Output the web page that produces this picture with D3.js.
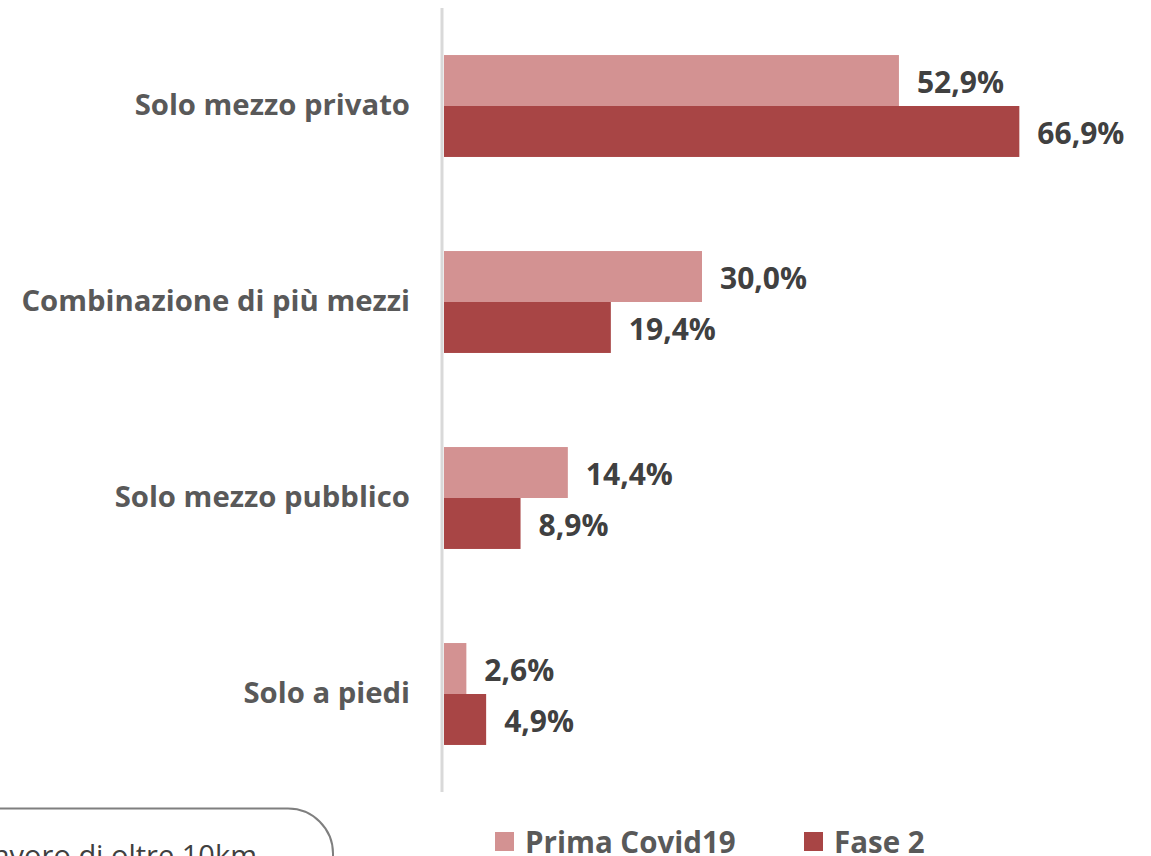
<!DOCTYPE html>
<html><head><meta charset="utf-8">
<script src="https://cdn.jsdelivr.net/npm/d3@7/dist/d3.min.js"></script>
<style>body{margin:0;background:#fff}svg{display:block}</style>
</head><body>
<svg id="c" width="1151" height="856"></svg>
<script>
const categories = ["Solo mezzo privato","Combinazione di più mezzi","Solo mezzo pubblico","Solo a piedi"];
const seriesNames = ["Prima Covid19","Fase 2"];
const primaCovid = [52.9, 30.0, 14.4, 2.6];
const fase2 = [66.9, 19.4, 8.9, 4.9];
const colors = ["#d39292","#a84545"];

const svg = d3.select("#c");
const x = d3.scaleLinear().domain([0, 100]).range([444, 1304]);
const y = d3.scaleBand().domain(categories).range([8, 792]).paddingInner(0.48).paddingOuter(0.24);
const ys = d3.scaleBand().domain(seriesNames).range([0, y.bandwidth()]);

const fmt = v => d3.format(".1f")(v).replace(".", ",") + "%";
const font = "'Open Sans', sans-serif";

const data = [primaCovid, fase2];
seriesNames.forEach((s, si) => {
  const g = svg.append("g");
  g.selectAll("rect").data(categories).join("rect")
    .attr("x", x(0)).attr("y", c => y(c) + ys(s))
    .attr("width", (c, i) => x(data[si][i]) - x(0))
    .attr("height", ys.bandwidth())
    .attr("fill", colors[si]);
  g.selectAll("text").data(categories).join("text")
    .attr("x", (c, i) => x(data[si][i]) + 18)
    .attr("y", c => y(c) + ys(s) + ys.bandwidth() / 2 + 4)
    .attr("dominant-baseline", "middle")
    .attr("font-family", font).attr("font-weight", 700).attr("font-size", 30)
    .attr("fill", "#404040")
    .text((c, i) => fmt(data[si][i]));
});

// axis
const yAxis = d3.axisLeft(y).tickSize(0).tickPadding(32);
const ag = svg.append("g").attr("transform", "translate(442,0)").call(yAxis);
ag.select(".domain").attr("stroke", "#d9d9d9").attr("stroke-width", 3).attr("d", "M0,8V792");
ag.selectAll("text").attr("font-family", font).attr("font-weight", 700).attr("font-size", 29.3).attr("fill", "#595959");

// legend
const lg = svg.append("g");
const lx = [495, 804];
seriesNames.forEach((s, i) => {
  lg.append("rect").attr("x", lx[i]).attr("y", 832).attr("width", 19).attr("height", 19).attr("fill", colors[i]);
  lg.append("text").attr("x", lx[i] + 30).attr("y", 853)
    .attr("font-family", font).attr("font-weight", 700).attr("font-size", 29.5).attr("fill", "#595959").text(s);
});

// note box
svg.append("path").attr("d", "M-20,808.5H288a45,45 0 0 1 45,45V880").attr("fill", "none").attr("stroke", "#7f7f7f").attr("stroke-width", 2);
svg.append("text").attr("x", 257).attr("y", 866).attr("text-anchor", "end")
  .attr("font-family", font).attr("font-size", 29).attr("fill", "#404040").text("Spostamenti casa-lavoro di oltre 10km");
</script>
</body></html>
